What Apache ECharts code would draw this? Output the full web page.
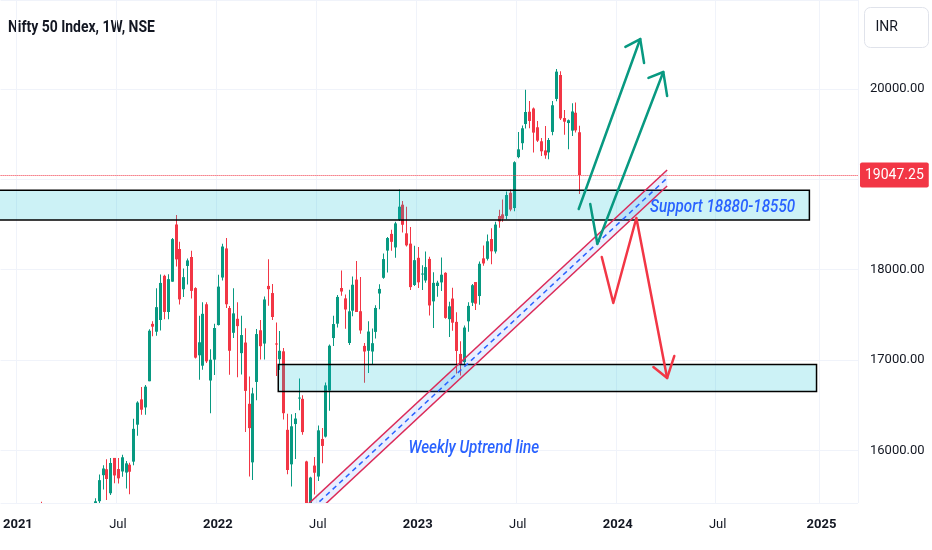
<!DOCTYPE html>
<html>
<head>
<meta charset="UTF-8">
<title>Nifty 50 Index, 1W, NSE</title>
<script src="https://cdn.jsdelivr.net/npm/echarts@6/dist/echarts.min.js"></script>
<style>
    html, body { margin: 0; padding: 0; background: #fff; }
    #main { width: 932px; height: 550px; }
</style>
</head>
<body>
<div id="main"></div>
<script type="text/javascript">
// weekly bars, the first one is the week of firstWeek
var firstWeek = '2020-12-07';
var weekCount = 223;
var lastPrice = 19047.25;

// [open, high, low, close] one row per week
var weeklyOHLC = [
    // 2020 Dec
    [13393,13579,13348,13514],[13562,13773,13563,13761],[13741,13777,13131,13749],[13815,14024,13780,13982],
    // 2021
    [14104,14388,13953,14347],[14474,14654,14357,14434],[14371,14753,14223,14372],[14477,14491,13597,13635],
    [13759,14984,13662,14924],[15064,15257,14977,15163],[15271,15432,14856,14982],[15000,15176,14468,14529],
    [14702,15273,14636,14938],[15064,15336,14830,15031],[15048,15050,14350,14744],[14737,14878,14264,14507],[14628,14984,14617,14867],
    [14837,14879,14460,14834],[14644,14697,14151,14617],[14306,14498,14191,14341],[14449,14890,14417,14631],
    [14481,14863,14416,14823],[14928,14966,14506,14677],[14756,15189,14592,15175],[15211,15469,15191,15436],[15437,15733,15408,15670],
    [15725,15835,15566,15799],[15791,15901,15450,15683],[15525,15915,15505,15860],[15916,15916,15635,15722],
    [15793,15915,15632,15690],[15766,15952,15707,15923],[15754,15881,15578,15856],[15841,15862,15513,15763],
    [15875,16350,15834,16238],[16284,16543,16162,16529],[16564,16701,16395,16450],[16475,16722,16395,16705],[16765,17340,16764,17324],
    [17400,17430,17263,17369],[17313,17793,17269,17585],[17443,17947,17327,17853],[17932,17943,17452,17532],
    [17531,17948,17452,17895],[17867,18350,17865,18338],[18500,18604,18034,18114],[18229,18310,17613,17671],
    [17783,18012,17697,17917],[18041,18123,17836,18102],[18140,18210,17680,17765],[17796,17806,17017,17026],[17052,17490,16782,17196],
    [16937,17639,16891,17511],[17617,17640,16966,16985],[16773,17119,16410,17003],[17004,17400,16833,17354],
    // 2022
    [17387,17944,17383,17812],[17913,18286,17880,18256],[18235,18350,17576,17617],[17575,17599,16837,17102],[17301,17794,17244,17516],
    [17456,17639,16809,17375],[17076,17490,16840,17276],[17193,17351,16203,16658],[16515,16816,15711,16246],
    [15867,16694,15671,16630],[16757,17344,16555,17287],[17329,17442,17006,17153],[17182,17703,17006,17670],
    [17820,18115,17600,17784],[17741,17842,17442,17476],[17183,17414,16824,17171],[17009,17322,16888,17102],
    [17096,17132,16340,16411],[16227,16404,15735,15782],[15845,16400,15601,16266],[16291,16414,15904,16352],[16578,16794,16444,16584],
    [16570,16610,16172,16202],[15877,15886,15183,15294],[15334,15707,15191,15699],[15831,15927,15511,15752],
    [15710,16275,15661,16221],[16126,16248,15858,16049],[16152,16752,16142,16719],[16662,17172,16439,17158],
    [17243,17490,17154,17398],[17402,17719,17359,17698],[17797,17992,17710,17758],[17682,17726,17346,17559],[17188,17777,17166,17539],
    [17546,17925,17485,17833],[17890,18096,17532,17531],[17540,17919,17291,17327],[17156,17187,16748,17094],
    [17102,17428,16856,17315],[17094,17348,16950,17186],[17311,17607,17238,17576],[17736,17838,17563,17787],[17910,18178,17900,18117],
    [18211,18362,17969,18350],[18396,18442,18209,18308],[18246,18529,18133,18512],[18552,18888,18540,18697],
    [18719,18759,18410,18497],[18402,18696,18255,18269],[18288,18473,17774,17807],[17830,18265,17818,18105],
    // 2023
    [18131,18251,17796,17860],[17953,18049,17774,17957],[17880,18201,17854,18028],[18119,18143,17493,17604],[17649,17972,17353,17854],
    [17819,17876,17699,17856],[17859,18134,17764,17944],[17965,17972,17456,17466],[17452,17645,17255,17594],
    [17680,17800,17325,17413],[17422,17529,16850,17100],[17067,17207,16828,16945],[16977,17381,16940,17359],
    [17428,17638,17313,17599],[17634,17842,17597,17828],[17863,17863,17553,17624],[17708,18089,17612,18065],
    [18125,18267,18042,18069],[18120,18389,18100,18314],[18339,18458,18060,18203],[18201,18529,18179,18499],[18594,18663,18465,18534],
    [18612,18777,18530,18563],[18595,18864,18557,18826],[18851,18887,18647,18665],[18682,19201,18647,19189],
    [19246,19523,19234,19332],[19400,19595,19327,19565],[19612,19992,19562,19745],[19748,19868,19564,19646],[19784,19795,19297,19517],
    [19576,19646,19413,19428],[19421,19458,19257,19310],[19320,19589,19229,19265],[19298,19458,19223,19435],
    [19525,19867,19488,19820],[19890,20222,19865,20192],[20155,20195,19657,19674],[19678,19766,19492,19638],
    [19623,19661,19333,19654],[19539,19843,19480,19751],[19737,19849,19518,19542],[19521,19593,18838,19047.25]
];

// drawings: [from, to, top, bottom]
var supportZones = [
    ['2020-12-01', '2024-12-15', 18880, 18550],
    ['2022-04-23', '2024-12-28', 16950, 16650]
];
var channelUpper = [['2022-06-13', 15385], ['2024-03-31', 19103]];
var channelMid   = [['2022-06-13', 15296], ['2024-03-31', 19014]];
var channelLower = [['2022-06-13', 15208], ['2024-03-31', 18926]];

var greenArrow1 = [['2023-10-22', 18671], ['2024-02-11', 20553]];
var greenHead1  = [['2024-01-15', 20465], ['2024-02-11', 20553], ['2024-02-18', 20288]];
var greenArrow2 = [['2023-11-12', 18727], ['2023-11-25', 18284], ['2024-03-24', 20188]];
var greenHead2  = [['2024-02-26', 20122], ['2024-03-24', 20188], ['2024-03-31', 19922]];
var redArrow    = [['2023-12-03', 18140], ['2023-12-24', 17631], ['2024-02-04', 18572], ['2024-03-31', 16801]];
var redHead     = [['2024-03-06', 16922], ['2024-03-31', 16801], ['2024-04-13', 17044]];

var notes = [
    ['2024-02-29', 18694, 'Support 18880-18550'],
    ['2022-12-16', 16026, 'Weekly Uptrend line']
];

var DAY = 864e5;
var t0 = Date.parse(firstWeek);
function wk(d) { return (Date.parse(d) - t0) / (7 * DAY); }
function pts(arr) { return arr.map(function (p) { return [wk(p[0]), p[1]]; }); }

var weekDates = [];
for (var i = 0; i < weekCount; i++) {
    weekDates.push(new Date(t0 + i * 7 * DAY).toISOString().slice(0, 10));
}
function isMark(i) {
    var d = new Date(t0 + i * 7 * DAY);
    var m = d.getUTCMonth();
    return (m === 0 || m === 6) && d.getUTCDate() <= 7;
}

var UP = '#089981', DOWN = '#f23645', CH = '#dc2a58', BLUE = '#2962ff';

function arrowSeries(arr, color) {
    return {
        type: 'line', xAxisIndex: 1, yAxisIndex: 0, data: pts(arr),
        symbol: 'none', silent: true, z: 6,
        lineStyle: { color: color, width: 2.5, cap: 'round', join: 'round' }
    };
}

var priceLine = arrowSeries(greenArrow1, UP);
priceLine.markLine = {
    silent: true,
    symbol: ['none', 'none'],
    data: [{ yAxis: lastPrice }],
    lineStyle: { color: DOWN, type: 'dotted', width: 1 },
    label: {
        position: 'end', distance: 2,
        formatter: lastPrice.toFixed(2),
        backgroundColor: DOWN, color: '#fff',
        padding: [6, 5, 5, 5], borderRadius: 2,
        fontFamily: 'Roboto', fontSize: 14
    }
};

var myChart = echarts.init(document.getElementById('main'));
var option = {
    animation: false,
    backgroundColor: '#ffffff',
    graphic: [{
        type: 'text', left: 8, top: 19, scaleX: 0.82,
        style: { text: 'Nifty 50 Index, 1W, NSE', fill: '#131722', font: 'bold 17px Roboto' }
    }, {
        type: 'group', left: 864, top: 7,
        children: [
            { type: 'rect', shape: { x: 0, y: 0, width: 64, height: 40, r: 6 },
              style: { fill: '#fff', stroke: '#e0e3eb', lineWidth: 1 } },
            { type: 'text', x: 11, y: 20,
              style: { text: 'INR', fill: '#131722', font: '14px Roboto', verticalAlign: 'middle' } }
        ]
    }],
    grid: { left: 0, right: 74, top: 0, bottom: 47 },
    xAxis: [{
        type: 'category',
        data: weekDates,
        boundaryGap: true,
        axisLine: { show: false },
        axisTick: { show: false },
        axisLabel: {
            interval: function (idx) { return isMark(idx); },
            margin: 15,
            color: '#131722',
            fontFamily: 'Roboto',
            fontSize: 13,
            formatter: function (v) {
                var d = new Date(v);
                return d.getUTCMonth() === 0 ? '{y|' + d.getUTCFullYear() + '}' : 'Jul';
            },
            rich: { y: { fontWeight: 'bold', fontFamily: 'Roboto', fontSize: 13, color: '#131722' } }
        },
        splitLine: {
            show: true,
            interval: function (idx) { return isMark(idx); },
            lineStyle: { color: '#f0f3fa', width: 1 }
        }
    }, {
        type: 'value', min: -0.5, max: weekCount - 0.5, show: false
    }],
    yAxis: {
        type: 'value',
        position: 'right',
        min: 15417, max: 20985,
        axisLine: { show: false },
        axisTick: { show: false },
        axisLabel: {
            showMinLabel: false, showMaxLabel: false,
            margin: 12, color: '#131722', fontFamily: 'Roboto', fontSize: 13,
            formatter: function (v) { return (v === 19000) ? '' : v.toFixed(2); }
        },
        splitLine: { lineStyle: { color: '#f0f3fa', width: 1 } }
    },
    series: [{
        // weekly candles
        type: 'custom', xAxisIndex: 0, yAxisIndex: 0, clip: true, silent: true, z: 2,
        data: weeklyOHLC.map(function (r, k) { return [k, r[0], r[3], r[2], r[1]]; }),
        encode: { x: 0, y: [1, 2, 3, 4] },
        renderItem: function (params, api) {
            var k = api.value(0), o = api.value(1), c = api.value(2);
            var po = api.coord([k, o]), pc = api.coord([k, c]);
            var pl = api.coord([k, api.value(3)]), ph = api.coord([k, api.value(4)]);
            var col = c >= o ? UP : DOWN;
            var xc = Math.round(ph[0]);
            var top = Math.min(po[1], pc[1]), h = Math.max(Math.abs(po[1] - pc[1]), 1);
            return {
                type: 'group',
                children: [
                    { type: 'rect', shape: { x: xc, y: ph[1], width: 1, height: pl[1] - ph[1] },
                      style: { fill: col } },
                    { type: 'rect', shape: { x: xc - 1, y: top, width: 3, height: h },
                      style: { fill: col } }
                ]
            };
        }
    }, {
        // support / demand boxes
        type: 'custom', xAxisIndex: 1, yAxisIndex: 0, clip: true, silent: true, z: 3,
        data: supportZones.map(function (z) { return [wk(z[0]), z[2], wk(z[1]), z[3]]; }),
        encode: { x: [0, 2], y: [1, 3] },
        renderItem: function (params, api) {
            var a = api.coord([api.value(0), api.value(1)]);
            var b = api.coord([api.value(2), api.value(3)]);
            return {
                type: 'rect',
                shape: { x: a[0], y: a[1], width: b[0] - a[0], height: b[1] - a[1] },
                style: { fill: 'rgba(0,188,212,0.2)', stroke: '#000', lineWidth: 1.5 }
            };
        }
    }, {
        // parallel channel
        type: 'custom', xAxisIndex: 1, yAxisIndex: 0, clip: true, silent: true, z: 4,
        data: [[wk(channelUpper[0][0]), channelUpper[0][1], wk(channelUpper[1][0]), channelUpper[1][1]]],
        encode: { x: [0, 2], y: [1, 3] },
        renderItem: function (params, api) {
            var up = pts(channelUpper).map(api.coord);
            var lo = pts(channelLower).map(api.coord);
            var mid = pts(channelMid).map(api.coord);
            return {
                type: 'group',
                children: [
                    { type: 'polygon', shape: { points: [up[0], up[1], lo[1], lo[0]] },
                      style: { fill: 'rgba(41,98,255,0.1)' } },
                    { type: 'polyline', shape: { points: up }, style: { stroke: CH, lineWidth: 1.5, fill: null } },
                    { type: 'polyline', shape: { points: lo }, style: { stroke: CH, lineWidth: 1.5, fill: null } },
                    { type: 'polyline', shape: { points: mid },
                      style: { stroke: BLUE, lineWidth: 1.5, lineDash: [5, 4], fill: null } }
                ]
            };
        }
    },
    priceLine, arrowSeries(greenHead1, UP),
    arrowSeries(greenArrow2, UP), arrowSeries(greenHead2, UP),
    arrowSeries(redArrow, DOWN), arrowSeries(redHead, DOWN),
    {
        // text notes, squeezed to match the condensed italic face
        type: 'custom', xAxisIndex: 1, yAxisIndex: 0, silent: true, z: 7,
        data: notes.map(function (n) { return [wk(n[0]), n[1]]; }),
        encode: { x: 0, y: 1 },
        renderItem: function (params, api) {
            var p = api.coord([api.value(0), api.value(1)]);
            return {
                type: 'text', x: p[0], y: p[1], scaleX: 0.8,
                style: {
                    text: notes[params.dataIndex][2], fill: BLUE,
                    font: 'italic 500 19px Roboto', verticalAlign: 'middle', align: 'left'
                }
            };
        }
    }]
};
myChart.setOption(option);
</script>
</body>
</html>
